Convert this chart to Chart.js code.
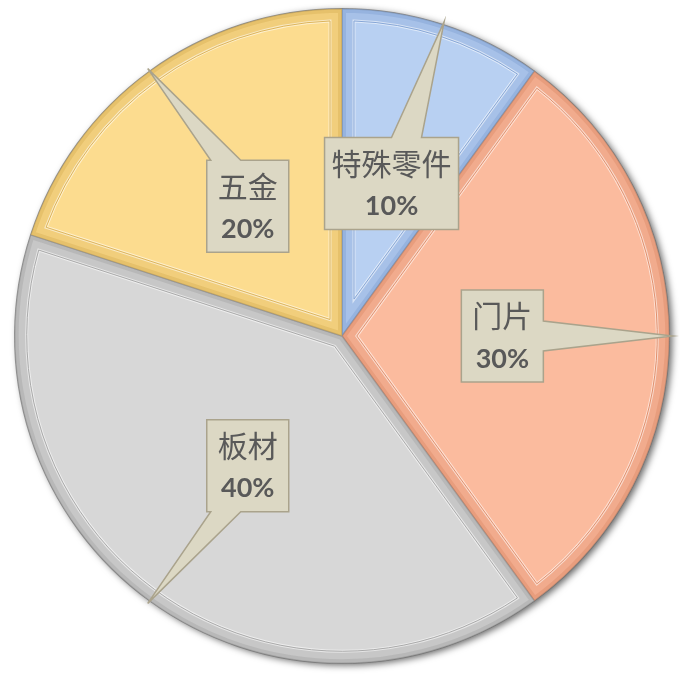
<!DOCTYPE html>
<html>
<head>
<meta charset="utf-8">
<script src="https://cdn.jsdelivr.net/npm/chart.js@4"></script>
<style>
  html, body { margin: 0; padding: 0; background: #fff; }
  #box { width: 680px; height: 680px; position: relative; }
</style>
</head>
<body>
<div id="box"><canvas id="pie"></canvas></div>
<script>
// 数据
const labels = ["特殊零件", "门片", "板材", "五金"];
const values = [10, 30, 40, 20]; // 百分比
const fills = ["#b8d0f2", "#fbbb9e", "#d7d7d7", "#fcdc8f"];
const rims = ["#86a6d6", "#e0906e", "#a9a9a9", "#dcb45a"];

// 外圈阴影
const shadowPlugin = {
  id: "shadow",
  beforeDatasetsDraw(chart) {
    const arc = chart.getDatasetMeta(0).data[0];
    if (!arc) return;
    const ctx = chart.ctx;
    ctx.save();
    ctx.shadowColor = "rgba(0,0,0,0.6)";
    ctx.shadowBlur = 7;
    ctx.shadowOffsetX = 3;
    ctx.shadowOffsetY = 2;
    ctx.beginPath();
    ctx.arc(arc.x, arc.y, arc.outerRadius, 0, Math.PI * 2);
    ctx.fillStyle = "#888";
    ctx.fill();
    ctx.restore();
  }
};

// 斜面效果
function sectorPath(ctx, x, y, r, a0, a1) {
  ctx.beginPath();
  ctx.moveTo(x, y);
  ctx.arc(x, y, r, a0, a1);
  ctx.closePath();
}

const bevelPlugin = {
  id: "bevel",
  afterDatasetsDraw(chart) {
    const ctx = chart.ctx;
    chart.getDatasetMeta(0).data.forEach((arc, i) => {
      const { x, y, startAngle, endAngle, outerRadius: R } = arc;
      ctx.save();
      sectorPath(ctx, x, y, R, startAngle, endAngle);
      ctx.clip();
      // 边缘暗带
      ctx.lineJoin = "miter";
      ctx.strokeStyle = rims[i];
      ctx.globalAlpha = 0.35;
      ctx.lineWidth = 24;
      sectorPath(ctx, x, y, R, startAngle, endAngle);
      ctx.stroke();
      ctx.globalAlpha = 0.5;
      ctx.lineWidth = 8;
      ctx.stroke();
      // 内侧高光线
      const d = 12;
      const half = (endAngle - startAngle) / 2;
      const mid = startAngle + half;
      const cr = d / Math.sin(Math.min(half, Math.PI / 2));
      const cx = x + Math.cos(mid) * cr, cy = y + Math.sin(mid) * cr;
      const da = d / (R - d);
      ctx.globalAlpha = 1;
      ctx.beginPath();
      ctx.moveTo(cx, cy);
      ctx.arc(x, y, R - d, startAngle + da, endAngle - da);
      ctx.closePath();
      ctx.lineWidth = 3;
      ctx.strokeStyle = "rgba(255,255,255,0.55)";
      ctx.stroke();
      ctx.lineWidth = 1;
      ctx.strokeStyle = rims[i];
      ctx.stroke();
      ctx.restore();
    });
  }
};

// 标注框
const calloutPlugin = {
  id: "callout",
  afterDraw(chart) {
    const ctx = chart.ctx;
    chart.getDatasetMeta(0).data.forEach((arc, i) => {
      const { x, y, startAngle, endAngle, outerRadius: R } = arc;
      const mid = (startAngle + endAngle) / 2;
      const bx = x + Math.cos(mid) * R * 0.49;
      const by = y + Math.sin(mid) * R * 0.49;
      const tx = x + Math.cos(mid) * R * 1.01;
      const ty = y + Math.sin(mid) * R * 1.01;

      ctx.font = '30px "Noto Sans CJK SC"';
      const w = Math.max(ctx.measureText(labels[i]).width + 14, 82);
      const h = 92;
      const L = bx - w / 2, T = by - h / 2, Rt = bx + w / 2, B = by + h / 2;
      const dx = tx - bx, dy = ty - by;
      const bw = 30;
      const pts = [];
      const clamp = (v, a, b) => Math.max(a, Math.min(b, v));
      if (Math.abs(dx) / (w / 2) > Math.abs(dy) / (h / 2)) {
        const ex = dx > 0 ? Rt : L;
        const ey = clamp(by + dy * ((ex - bx) / dx), T + bw / 2 + 4, B - bw / 2 - 4);
        if (dx > 0) {
          pts.push([L, T], [Rt, T], [Rt, ey - bw / 2], [tx, ty], [Rt, ey + bw / 2], [Rt, B], [L, B]);
        } else {
          pts.push([L, T], [Rt, T], [Rt, B], [L, B], [L, ey + bw / 2], [tx, ty], [L, ey - bw / 2]);
        }
      } else {
        const ey = dy > 0 ? B : T;
        const ex = clamp(bx + dx * ((ey - by) / dy), L + bw / 2 + 4, Rt - bw / 2 - 4);
        if (dy < 0) {
          pts.push([L, T], [ex - bw / 2, T], [tx, ty], [ex + bw / 2, T], [Rt, T], [Rt, B], [L, B]);
        } else {
          pts.push([L, T], [Rt, T], [Rt, B], [ex + bw / 2, B], [tx, ty], [ex - bw / 2, B], [L, B]);
        }
      }
      ctx.save();
      ctx.beginPath();
      pts.forEach((p, k) => (k ? ctx.lineTo(p[0], p[1]) : ctx.moveTo(p[0], p[1])));
      ctx.closePath();
      ctx.fillStyle = "#dcd8c4";
      ctx.fill();
      ctx.lineWidth = 1.5;
      ctx.strokeStyle = "#aaa38c";
      ctx.stroke();

      ctx.fillStyle = "#595959";
      ctx.textAlign = "center";
      ctx.textBaseline = "middle";
      ctx.font = '30px "Noto Sans CJK SC"';
      ctx.fillText(labels[i], bx, T + 26);
      ctx.font = 'bold 27px Lato';
      ctx.fillText(values[i] + "%", bx, T + 69);
      ctx.restore();
    });
  }
};

const data = {
  labels: labels,
  datasets: [{
    data: values,
    backgroundColor: fills,
    borderColor: "rgba(110,110,110,0.7)",
    borderWidth: 1.5,
  }],
};

const config = {
  type: "pie",
  data: data,
  options: {
    responsive: true,
    maintainAspectRatio: false,
    animation: false,
    layout: { padding: { left: 14, right: 10, top: 8, bottom: 16 } },
    plugins: {
      legend: { display: false },
      tooltip: { enabled: false },
    },
  },
  plugins: [shadowPlugin, bevelPlugin, calloutPlugin],
};

new Chart(document.getElementById("pie").getContext("2d"), config);
</script>
</body>
</html>
